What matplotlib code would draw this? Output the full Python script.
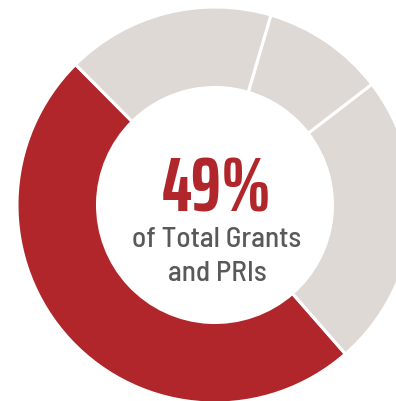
import matplotlib
matplotlib.use("Agg")
from matplotlib import pyplot as plt

# 数据
shares = [49, 24, 10, 17]
colors = ["#B0262A", "#DFD9D5", "#DFD9D5", "#DFD9D5"]
big_label = "49%"
sub_label = ["of Total Grants", "and PRIs"]

fig = plt.figure(figsize=(3.96, 4.02), dpi=100)
ax = fig.add_axes([0, 0, 1, 1])

# 环形图
start = 223 - shares[0] * 3.6 / 2
ax.pie(shares, colors=colors, startangle=start, counterclock=True,
       center=(215, 196), radius=198,
       wedgeprops=dict(width=80.5, edgecolor="white", linewidth=2.2))
ax.set_xlim(0, 396)
ax.set_ylim(0, 402)
ax.set_aspect("equal")
ax.axis("off")

ax.text(217, 211, big_label, ha="center", va="center", color="#B0262A",
        fontsize=55, fontweight="bold", family=["Saira ExtraCondensed", "DejaVu Sans"])
ax.text(217, 162, sub_label[0], ha="center", va="center", color="#58595B",
        fontsize=21, fontweight="medium", family=["Barlow Semi Condensed", "DejaVu Sans"])
ax.text(217, 128, sub_label[1], ha="center", va="center", color="#58595B",
        fontsize=21, fontweight="medium", family=["Barlow Semi Condensed", "DejaVu Sans"])

plt.savefig("out.png", dpi=100)
